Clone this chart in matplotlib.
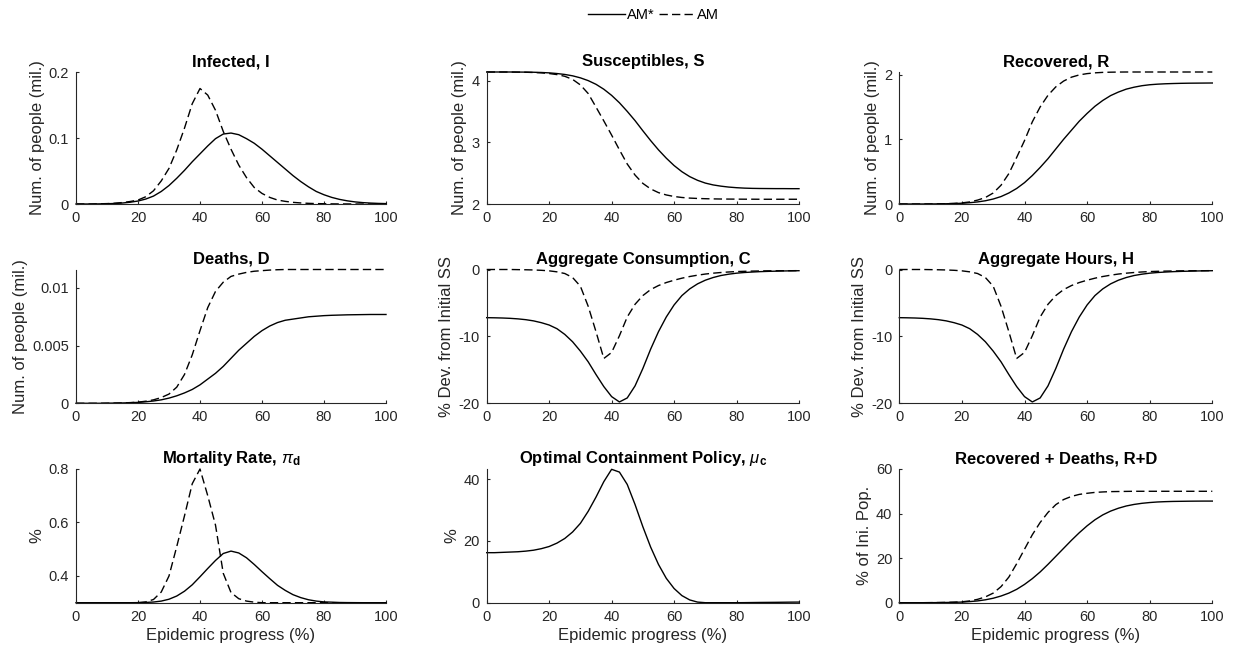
import matplotlib
matplotlib.use("Agg")
import matplotlib.pyplot as plt
from matplotlib.lines import Line2D
from matplotlib.ticker import FuncFormatter
import numpy as np

plt.rcParams["font.family"] = ["Liberation Sans", "DejaVu Sans"]
plt.rcParams["axes.unicode_minus"] = False
plt.rcParams["mathtext.fontset"] = "custom"
plt.rcParams["mathtext.rm"] = "Liberation Sans"
plt.rcParams["mathtext.it"] = "Liberation Sans:italic"
plt.rcParams["mathtext.bf"] = "Liberation Sans:bold"

# epidemic progress grid (%), every 2.5
progress = np.linspace(0, 100, 41)

infected_am_star = [0, 0, 0, 0.0002, 0.0004, 0.0008, 0.0015, 0.0027, 0.0045, 0.0075,
                    0.012, 0.019, 0.028, 0.039, 0.051, 0.064, 0.076, 0.088, 0.099, 0.106,
                    0.1075, 0.105, 0.099, 0.092, 0.083, 0.073, 0.063, 0.053, 0.043, 0.034,
                    0.026, 0.019, 0.014, 0.010, 0.007, 0.0048, 0.0032, 0.0021, 0.0014, 0.0009,
                    0.0006]
infected_am = [0, 0, 0, 0.0003, 0.0006, 0.0012, 0.0022, 0.0038, 0.006, 0.011,
               0.02, 0.035, 0.054, 0.082, 0.115, 0.152, 0.175, 0.165, 0.142, 0.11,
               0.083, 0.059, 0.04, 0.025, 0.016, 0.01, 0.006, 0.004, 0.0025, 0.0016,
               0.001, 0.0006, 0.0004, 0.0002, 0.0001, 0.0001, 0, 0, 0, 0,
               0]

susceptibles_am_star = [4.145, 4.145, 4.145, 4.145, 4.144, 4.143, 4.141, 4.137, 4.131, 4.12,
                        4.105, 4.083, 4.05, 4.005, 3.945, 3.865, 3.765, 3.645, 3.505, 3.355,
                        3.19, 3.03, 2.88, 2.745, 2.625, 2.525, 2.445, 2.385, 2.34, 2.31,
                        2.29, 2.275, 2.265, 2.258, 2.254, 2.252, 2.251, 2.25, 2.25, 2.249,
                        2.249]
susceptibles_am = [4.145, 4.145, 4.145, 4.144, 4.143, 4.141, 4.137, 4.131, 4.12, 4.103,
                   4.075, 4.025, 3.935, 3.795, 3.575, 3.35, 3.12, 2.88, 2.65, 2.47,
                   2.335, 2.245, 2.185, 2.147, 2.122, 2.106, 2.096, 2.09, 2.086, 2.083,
                   2.081, 2.08, 2.079, 2.078, 2.078, 2.077, 2.077, 2.077, 2.077, 2.077,
                   2.077]

recovered_am_star = [0, 0, 0, 0, 0.001, 0.002, 0.004, 0.007, 0.012, 0.02,
                     0.032, 0.05, 0.077, 0.115, 0.17, 0.24, 0.33, 0.44, 0.565, 0.70,
                     0.85, 1.0, 1.14, 1.28, 1.40, 1.51, 1.60, 1.675, 1.73, 1.775,
                     1.805, 1.828, 1.843, 1.852, 1.858, 1.862, 1.865, 1.867, 1.868, 1.869,
                     1.87]
recovered_am = [0, 0, 0, 0, 0.001, 0.003, 0.005, 0.009, 0.017, 0.032,
                0.06, 0.1, 0.17, 0.29, 0.47, 0.72, 0.98, 1.27, 1.50, 1.68,
                1.81, 1.90, 1.96, 1.995, 2.015, 2.027, 2.034, 2.037, 2.039, 2.04,
                2.04, 2.04, 2.04, 2.04, 2.04, 2.04, 2.04, 2.04, 2.04, 2.04,
                2.04]

deaths_am_star = [0, 0, 0, 0, 0.00001, 0.00002, 0.00003, 0.00005, 0.00008, 0.00013,
                  0.0002, 0.0003, 0.00045, 0.00065, 0.0009, 0.0012, 0.0016, 0.0021, 0.0026, 0.0032,
                  0.0039, 0.0046, 0.0052, 0.0058, 0.0063, 0.0067, 0.007, 0.0072, 0.0073, 0.0074,
                  0.0075, 0.00755, 0.0076, 0.00763, 0.00765, 0.00767, 0.00768, 0.00769, 0.0077, 0.0077,
                  0.0077]
deaths_am = [0, 0, 0, 0, 0.00001, 0.00002, 0.00003, 0.00006, 0.0001, 0.00018,
             0.0003, 0.0005, 0.0008, 0.0014, 0.0025, 0.0042, 0.0063, 0.0083, 0.0097, 0.0105,
             0.011, 0.0112, 0.01135, 0.01145, 0.0115, 0.01155, 0.01158, 0.0116, 0.0116, 0.0116,
             0.0116, 0.0116, 0.0116, 0.0116, 0.0116, 0.0116, 0.0116, 0.0116, 0.0116, 0.0116,
             0.0116]

consumption_am_star = [-7.2, -7.22, -7.25, -7.3, -7.38, -7.5, -7.68, -7.95, -8.3, -8.85,
                       -9.7, -10.8, -12.2, -13.8, -15.7, -17.5, -19.0, -19.8, -19.2, -17.4,
                       -14.8, -11.9, -9.3, -7.1, -5.3, -3.9, -2.9, -2.15, -1.6, -1.2,
                       -0.9, -0.7, -0.55, -0.45, -0.38, -0.32, -0.28, -0.25, -0.22, -0.2,
                       -0.18]
consumption_am = [0, 0, 0, 0, -0.02, -0.04, -0.07, -0.12, -0.2, -0.35,
                  -0.6, -1.2, -2.5, -5.5, -9.3, -13.3, -12.4, -9.9, -7.1, -5.2,
                  -3.9, -3.0, -2.4, -1.95, -1.6, -1.3, -1.05, -0.85, -0.68, -0.55,
                  -0.45, -0.37, -0.31, -0.27, -0.24, -0.22, -0.2, -0.19, -0.18, -0.18,
                  -0.17]

# hours read the same as consumption in the figure
hours_am_star = list(consumption_am_star)
hours_am = list(consumption_am)

mortality_am_star = [0.3, 0.3, 0.3, 0.3, 0.3, 0.3, 0.3, 0.3, 0.3003, 0.301,
                     0.3025, 0.306, 0.313, 0.325, 0.343, 0.367, 0.397, 0.428, 0.458, 0.484,
                     0.493, 0.486, 0.468, 0.443, 0.416, 0.39, 0.365, 0.346, 0.33, 0.319,
                     0.311, 0.306, 0.303, 0.302, 0.3008, 0.3004, 0.3002, 0.3, 0.3, 0.3,
                     0.3]
mortality_am = [0.3, 0.3, 0.3, 0.3, 0.3, 0.3, 0.3, 0.3, 0.3, 0.303,
                0.312, 0.34, 0.40, 0.51, 0.625, 0.745, 0.8, 0.70, 0.59, 0.41,
                0.338, 0.315, 0.306, 0.302, 0.3, 0.3, 0.3, 0.3, 0.3, 0.3,
                0.3, 0.3, 0.3, 0.3, 0.3, 0.3, 0.3, 0.3, 0.3, 0.3,
                0.3]

policy_am_star = [16.2, 16.2, 16.3, 16.4, 16.5, 16.7, 17.0, 17.5, 18.2, 19.3,
                  20.8, 22.9, 25.7, 29.6, 34.2, 39.2, 43.2, 42.3, 38.3, 31.8,
                  24.6, 18.0, 12.4, 7.9, 4.6, 2.3, 0.9, 0.2, 0.0, 0.0,
                  0.0, 0.0, 0.0, 0.02, 0.05, 0.08, 0.1, 0.12, 0.15, 0.18,
                  0.2]

rd_am_star = [0, 0, 0, 0, 0.02, 0.05, 0.1, 0.17, 0.28, 0.5,
              0.8, 1.3, 2.0, 3.0, 4.3, 6.0, 8.2, 10.8, 13.8, 17.2,
              20.8, 24.4, 28.0, 31.4, 34.5, 37.2, 39.4, 41.1, 42.4, 43.4,
              44.1, 44.6, 44.95, 45.2, 45.35, 45.45, 45.5, 45.55, 45.58, 45.6,
              45.6]
rd_am = [0, 0, 0, 0, 0.03, 0.07, 0.13, 0.23, 0.4, 0.8,
         1.5, 2.6, 4.3, 7.2, 11.5, 17.5, 24.0, 30.5, 36.0, 40.5,
         44.0, 46.3, 47.7, 48.6, 49.1, 49.5, 49.7, 49.85, 49.9, 49.95,
         50.0, 50.0, 50.0, 50.0, 50.0, 50.0, 50.0, 50.0, 50.0, 50.0,
         50.0]

GREY = "#262626"
DASH = (0, (6, 3))

fig = plt.figure(figsize=(12.37, 6.57), dpi=100)
W, H = 1237.0, 657.0
col_px = [(76, 310), (486.7, 312.3), (899.3, 313)]
row_px = [(72, 204), (269.5, 403.3), (469, 602.7)]


def make_ax(r, c):
    left, width = col_px[c]
    top, bottom = row_px[r]
    ax = fig.add_axes([left / W, 1 - bottom / H, width / W, (bottom - top) / H])
    for side in ("top", "right"):
        ax.spines[side].set_visible(False)
    for side in ("left", "bottom"):
        ax.spines[side].set_color(GREY)
        ax.spines[side].set_linewidth(0.8)
    ax.tick_params(direction="in", length=2.5, width=0.8, colors=GREY,
                   labelsize=10.5, pad=5)
    ax.set_xlim(0, 100)
    ax.set_xticks([0, 20, 40, 60, 80, 100])
    ax.yaxis.set_major_formatter(FuncFormatter(lambda v, p: "%g" % round(v, 6)))
    return ax


def panel(r, c, title, ylabel, star, am, ylim, yticks):
    ax = make_ax(r, c)
    ax.plot(progress, star, color="black", lw=1.0, clip_on=False)
    if am is not None:
        ax.plot(progress, am, color="black", lw=1.0, linestyle=DASH, clip_on=False)
    ax.set_ylim(*ylim)
    ax.set_yticks(yticks)
    ax.set_title(title, fontsize=12, fontweight="bold", color="black", pad=4)
    ax.set_ylabel(ylabel, fontsize=12, color=GREY, labelpad=3)
    if r == 2:
        ax.set_xlabel("Epidemic progress (%)", fontsize=12, color=GREY, labelpad=3)
    return ax


panel(0, 0, "Infected, I", "Num. of people (mil.)", infected_am_star, infected_am,
      (0, 0.2), [0, 0.1, 0.2])
panel(0, 1, "Susceptibles, S", "Num. of people (mil.)", susceptibles_am_star, susceptibles_am,
      (2, max(susceptibles_am_star)), [2, 3, 4])
panel(0, 2, "Recovered, R", "Num. of people (mil.)", recovered_am_star, recovered_am,
      (0, max(recovered_am)), [0, 1, 2])
panel(1, 0, "Deaths, D", "Num. of people (mil.)", deaths_am_star, deaths_am,
      (0, max(deaths_am)), [0, 0.005, 0.01])
panel(1, 1, "Aggregate Consumption, C", "% Dev. from Initial SS", consumption_am_star,
      consumption_am, (-20, 0), [-20, -10, 0])
panel(1, 2, "Aggregate Hours, H", "% Dev. from Initial SS", hours_am_star, hours_am,
      (-20, 0), [-20, -10, 0])
panel(2, 0, r"Mortality Rate, $\pi_\mathbf{d}$", "%", mortality_am_star, mortality_am,
      (0.3, 0.8), [0.4, 0.6, 0.8])
panel(2, 1, r"Optimal Containment Policy, $\mu_\mathbf{c}$", "%", policy_am_star, None,
      (0, 43.3), [0, 20, 40])
panel(2, 2, "Recovered + Deaths, R+D", "% of Ini. Pop.", rd_am_star, rd_am,
      (0, 60), [0, 20, 40, 60])

handles = [Line2D([], [], color="black", lw=1.0),
           Line2D([], [], color="black", lw=1.0, linestyle=DASH)]
fig.legend(handles, ["AM*", "AM"], loc="center", bbox_to_anchor=(0.5285, 0.977),
           ncol=2, frameon=False, fontsize=10.5, handlelength=2.5,
           handletextpad=0.15, columnspacing=0.3)

fig.savefig("out.png", dpi=100)
